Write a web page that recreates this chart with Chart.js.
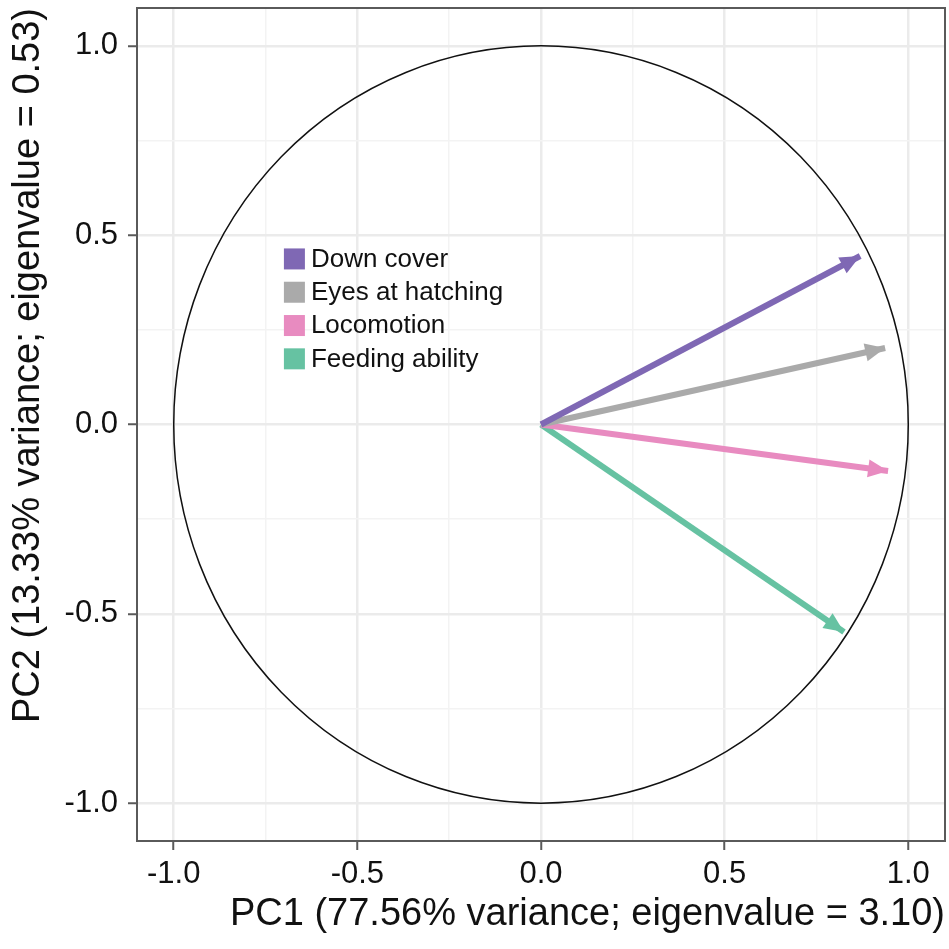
<!DOCTYPE html>
<html>
<head>
<meta charset="utf-8">
<script src="https://cdn.jsdelivr.net/npm/chart.js@4/dist/chart.umd.min.js"></script>
<style>
  body { margin: 0; background: #ffffff; }
</style>
</head>
<body>
<canvas id="myChart" width="949" height="949"></canvas>
<script>
// donnees
var variables = ['Down cover', 'Eyes at hatching', 'Locomotion', 'Feeding ability'];
var pc1 = [0.869, 0.937, 0.945, 0.825];
var pc2 = [0.445, 0.202, -0.123, -0.548];
var couleurs = ['#7f68b4', '#aaaaaa', '#e88bc0', '#66c2a2'];
var majeurs = [-1.0, -0.5, 0.0, 0.5, 1.0];
var mineurs = [-0.75, -0.25, 0.25, 0.75];
var titreX = 'PC1 (77.56% variance; eigenvalue = 3.10)';
var titreY = 'PC2 (13.33% variance; eigenvalue = 0.53)';

var police = "'Liberation Sans', Arial, sans-serif";

function estMajeur (v) {
    return majeurs.some(function (m) { return Math.abs(m - v) < 1e-6; });
}

function poserTicks (scale) {
    scale.ticks = majeurs.concat(mineurs).sort(function (a, b) { return a - b; })
        .map(function (v) { return { value: v }; });
}

// les jeux de donnees : une fleche par variable
var jeux = variables.map(function (nom, i) {
    return {
        label: nom,
        data: [{ x: 0, y: 0 }, { x: pc1[i], y: pc2[i] }],
        showLine: true,
        borderColor: couleurs[i],
        backgroundColor: couleurs[i],
        borderWidth: 6,
        pointRadius: 0,
        borderCapStyle: 'butt'
    };
});

// cercle, cadre, pointes de fleche et legende
var decor = {
    id: 'decor',
    beforeDatasetsDraw: function (chart) {
        var ctx = chart.ctx;
        var xs = chart.scales.x, ys = chart.scales.y;
        var cx = xs.getPixelForValue(0), cy = ys.getPixelForValue(0);
        var rx = xs.getPixelForValue(1) - cx, ry = cy - ys.getPixelForValue(1);
        ctx.save();
        ctx.beginPath();
        ctx.ellipse(cx, cy, rx, ry, 0, 0, Math.PI * 2);
        ctx.strokeStyle = '#111111';
        ctx.lineWidth = 1.5;
        ctx.stroke();
        ctx.restore();
    },
    afterDatasetsDraw: function (chart) {
        var ctx = chart.ctx;
        chart.data.datasets.forEach(function (ds, i) {
            var pts = chart.getDatasetMeta(i).data;
            var a = pts[0], b = pts[1];
            var ang = Math.atan2(b.y - a.y, b.x - a.x);
            var L = 20, W = 9;
            ctx.save();
            ctx.translate(b.x, b.y);
            ctx.rotate(ang);
            ctx.beginPath();
            ctx.moveTo(0, 0);
            ctx.lineTo(-L, -W);
            ctx.lineTo(-L, W);
            ctx.closePath();
            ctx.fillStyle = ds.borderColor;
            ctx.fill();
            ctx.restore();
        });
        // legende
        var xs = chart.scales.x, ys = chart.scales.y;
        var gx = xs.getPixelForValue(-0.70), gy = ys.getPixelForValue(0.465);
        ctx.save();
        ctx.font = '26px ' + police;
        ctx.textBaseline = 'middle';
        chart.data.datasets.forEach(function (ds, i) {
            var y = gy + i * 33.3;
            ctx.fillStyle = ds.borderColor;
            ctx.fillRect(gx, y, 21, 21);
            ctx.fillStyle = '#111111';
            ctx.fillText(ds.label, gx + 27, y + 11);
        });
        ctx.restore();
    },
    afterDraw: function (chart) {
        var a = chart.chartArea;
        var ctx = chart.ctx;
        ctx.save();
        ctx.strokeStyle = '#5a5a5a';
        ctx.lineWidth = 2;
        ctx.strokeRect(a.left, a.top, a.right - a.left, a.bottom - a.top);
        ctx.restore();
    }
};

var fond = {
    id: 'fond',
    beforeDraw: function (chart) {
        var ctx = chart.ctx;
        ctx.save();
        ctx.fillStyle = '#ffffff';
        ctx.fillRect(0, 0, chart.width, chart.height);
        ctx.restore();
    }
};

function grille () {
    return {
        color: function (c) { return (c.tick && estMajeur(c.tick.value)) ? '#ebebeb' : '#f3f3f3'; },
        lineWidth: function (c) { return (c.tick && estMajeur(c.tick.value)) ? 2.5 : 1.5; },
        tickColor: function (c) { return (c.tick && estMajeur(c.tick.value)) ? '#5a5a5a' : 'rgba(0,0,0,0)'; },
        tickLength: 9,
        tickWidth: 2
    };
}

var ctx = document.getElementById('myChart').getContext('2d');
var chart = new Chart(ctx, {
    type: 'scatter',
    data: { datasets: jeux },
    plugins: [fond, decor],
    options: {
        responsive: false,
        animation: false,
        layout: { padding: { top: 8, right: 4, left: 0, bottom: 0 } },
        plugins: {
            legend: { display: false },
            tooltip: { enabled: false }
        },
        scales: {
            x: {
                type: 'linear',
                min: -1.1,
                max: 1.1,
                afterBuildTicks: poserTicks,
                afterFit: function (s) { s.height = 108; s.paddingLeft = 0; s.paddingRight = 0; },
                grid: grille(),
                border: { display: false },
                ticks: {
                    padding: 6,
                    color: '#111111',
                    font: { family: police, size: 31 },
                    maxRotation: 0,
                    callback: function (v) { return estMajeur(v) ? v.toFixed(1) : ''; }
                },
                title: {
                    display: true,
                    text: titreX,
                    align: 'end',
                    color: '#111111',
                    font: { family: police, size: 38 },
                    padding: { top: 0, bottom: 12 }
                }
            },
            y: {
                type: 'linear',
                min: -1.1,
                max: 1.1,
                afterBuildTicks: poserTicks,
                afterFit: function (s) { s.width = 137; s.paddingTop = 0; s.paddingBottom = 0; },
                grid: grille(),
                border: { display: false },
                ticks: {
                    padding: 10,
                    color: '#111111',
                    font: { family: police, size: 31 },
                    callback: function (v) { return estMajeur(v) ? v.toFixed(1) : ''; }
                },
                title: {
                    display: true,
                    text: titreY,
                    align: 'end',
                    color: '#111111',
                    font: { family: police, size: 38 },
                    padding: { top: 6, bottom: 0 }
                }
            }
        }
    }
});
</script>
</body>
</html>
